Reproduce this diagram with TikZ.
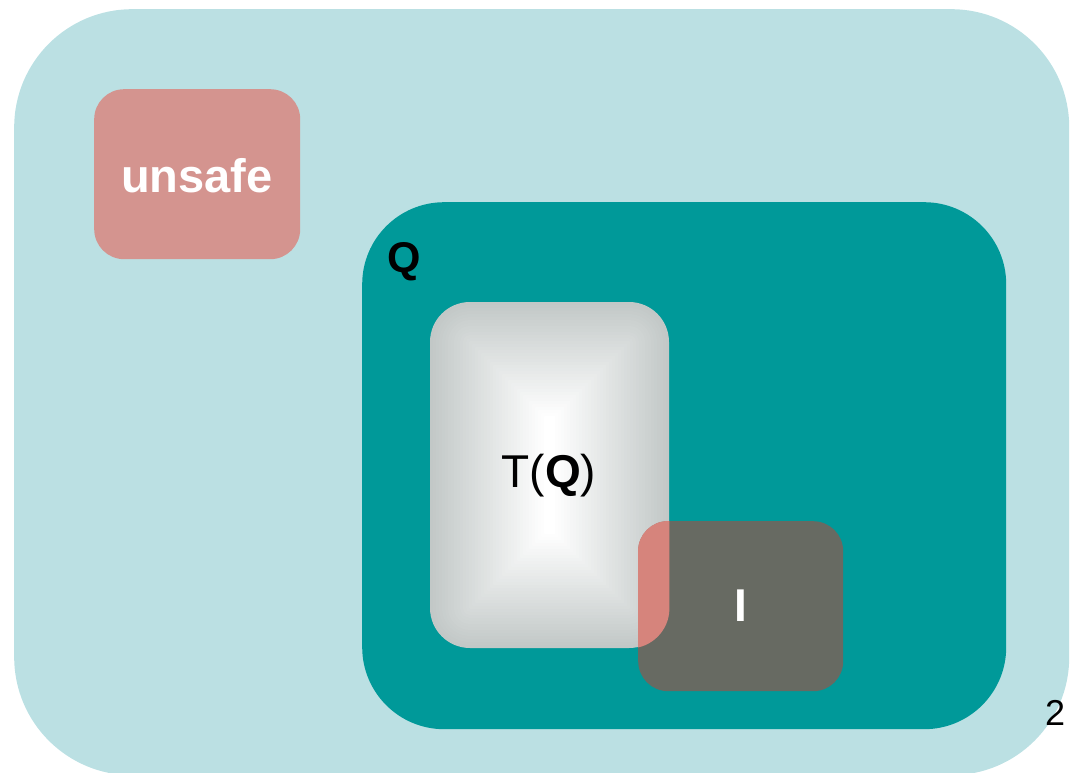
\documentclass[tikz,border=0pt]{standalone}
\usepackage{fontspec}
\setmainfont{Liberation Sans}
\usetikzlibrary{calc}
\definecolor{outerc}{HTML}{BBE0E3}
\definecolor{tealc}{HTML}{009999}
\definecolor{unsafec}{HTML}{D4948F}
\definecolor{ibox}{HTML}{676A62}
\definecolor{tqedge}{HTML}{C2C8C7}
\definecolor{overlapc}{HTML}{D6847C}
\begin{document}
\begin{tikzpicture}[x=1pt,y=-1pt,
  region/.style={rectangle, draw=none, inner sep=0pt, anchor=north west},
  lbl/.style={inner sep=0pt}]
\useasboundingbox (0,0) rectangle (1074,773);
% outer region
\node[region, fill=outerc, rounded corners=118pt, minimum width=1055pt, minimum height=766pt] (outer) at (14,9) {};
% unsafe
\node[region, fill=unsafec, rounded corners=30pt, minimum width=206pt, minimum height=170pt] (unsafe) at (94,89) {};
\node[lbl, text=white, font=\fontsize{47}{47}\selectfont\bfseries] (unsafet) at (197,176) {unsafe};
% Q
\node[region, fill=tealc, rounded corners=82pt, minimum width=644pt, minimum height=527pt] (Q) at (362,202) {};
\node[lbl, font=\fontsize{43}{43}\selectfont\bfseries, anchor=center] (Qt) at (404,262) {Q};
% T(Q) gradient
\coordinate (tqc) at (549.5,475);
\foreach \d in {0,3,...,114}{
  \pgfmathsetmacro{\pct}{100*\d/114}
  \pgfmathsetmacro{\rr}{max(40-\d,0.5)}
  \fill[white!\pct!tqedge, rounded corners=\rr pt]
    ($(tqc)+(-119.5+\d,-173+\d)$) rectangle ($(tqc)+(119.5-\d,173-\d)$);
}
\node[region, minimum width=239pt, minimum height=346pt] (TQ) at (430,302) {};
\node[lbl, font=\fontsize{46}{46}\selectfont] (TQt) at (549,476) {T(\textbf{Q})};
% I box
\node[region, fill=ibox, rounded corners=30pt, minimum width=205pt, minimum height=170pt] (I) at (638,521) {};
\begin{scope}
  \clip[rounded corners=30pt] (I.north west) rectangle (I.south east);
  \fill[overlapc, rounded corners=40pt] (TQ.north west) rectangle (TQ.south east);
\end{scope}
\node[lbl, text=white, font=\fontsize{46}{46}\selectfont\bfseries] (It) at (741,606) {I};
% page number
\node[lbl, font=\fontsize{36}{36}\selectfont] (pg) at (1055,713) {2};
\end{tikzpicture}
\end{document}
